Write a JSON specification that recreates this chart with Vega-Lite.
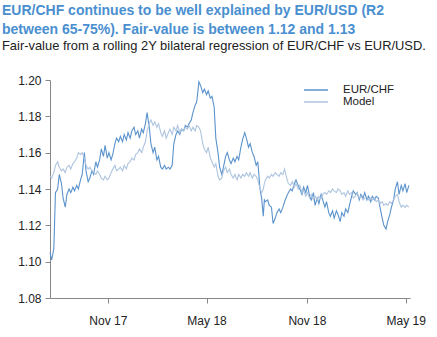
{
  "$schema": "https://vega.github.io/schema/vega-lite/v6.json",
  "width": 360,
  "height": 218,
  "autosize": {"type": "none"},
  "padding": {"left": 50, "top": 80, "right": 27, "bottom": 39},
  "background": "white",
  "config": {"view": {"stroke": null}, "font": "Liberation Sans"},
  "title": {
    "text": ["EUR/CHF continues to be well explained by EUR/USD (R2", "between 65-75%). Fair-value is between 1.12 and 1.13"],
    "subtitle": "Fair-value from a rolling 2Y bilateral regression of EUR/CHF vs EUR/USD.",
    "anchor": "start",
    "frame": "group",
    "dx": -48,
    "offset": 21,
    "font": "Liberation Sans",
    "fontSize": 14,
    "fontWeight": "bold",
    "color": "#4a8fd0",
    "lineHeight": 19.5,
    "subtitleFont": "Liberation Sans",
    "subtitleFontSize": 12.9,
    "subtitleColor": "#222222",
    "subtitlePadding": 3
  },
  "data": {"values": [
    {"date": "2017-07-18", "EUR/CHF": 1.105, "Model": 1.147},
    {"date": "2017-07-21", "EUR/CHF": 1.101, "Model": 1.146},
    {"date": "2017-07-25", "EUR/CHF": 1.107, "Model": 1.149},
    {"date": "2017-07-28", "EUR/CHF": 1.138, "Model": 1.153},
    {"date": "2017-08-01", "EUR/CHF": 1.140, "Model": 1.155},
    {"date": "2017-08-04", "EUR/CHF": 1.148, "Model": 1.152},
    {"date": "2017-08-08", "EUR/CHF": 1.143, "Model": 1.150},
    {"date": "2017-08-11", "EUR/CHF": 1.135, "Model": 1.151},
    {"date": "2017-08-15", "EUR/CHF": 1.130, "Model": 1.149},
    {"date": "2017-08-18", "EUR/CHF": 1.137, "Model": 1.152},
    {"date": "2017-08-22", "EUR/CHF": 1.140, "Model": 1.153},
    {"date": "2017-08-25", "EUR/CHF": 1.138, "Model": 1.151},
    {"date": "2017-08-29", "EUR/CHF": 1.141, "Model": 1.154},
    {"date": "2017-09-01", "EUR/CHF": 1.139, "Model": 1.155},
    {"date": "2017-09-05", "EUR/CHF": 1.142, "Model": 1.157},
    {"date": "2017-09-08", "EUR/CHF": 1.140, "Model": 1.160},
    {"date": "2017-09-12", "EUR/CHF": 1.145, "Model": 1.159},
    {"date": "2017-09-15", "EUR/CHF": 1.148, "Model": 1.160},
    {"date": "2017-09-19", "EUR/CHF": 1.160, "Model": 1.157},
    {"date": "2017-09-22", "EUR/CHF": 1.150, "Model": 1.153},
    {"date": "2017-09-26", "EUR/CHF": 1.144, "Model": 1.151},
    {"date": "2017-09-29", "EUR/CHF": 1.146, "Model": 1.152},
    {"date": "2017-10-03", "EUR/CHF": 1.150, "Model": 1.150},
    {"date": "2017-10-06", "EUR/CHF": 1.148, "Model": 1.149},
    {"date": "2017-10-10", "EUR/CHF": 1.155, "Model": 1.148},
    {"date": "2017-10-13", "EUR/CHF": 1.152, "Model": 1.150},
    {"date": "2017-10-17", "EUR/CHF": 1.156, "Model": 1.148},
    {"date": "2017-10-20", "EUR/CHF": 1.162, "Model": 1.146},
    {"date": "2017-10-24", "EUR/CHF": 1.158, "Model": 1.145},
    {"date": "2017-10-27", "EUR/CHF": 1.164, "Model": 1.147},
    {"date": "2017-10-31", "EUR/CHF": 1.157, "Model": 1.145},
    {"date": "2017-11-03", "EUR/CHF": 1.160, "Model": 1.146},
    {"date": "2017-11-07", "EUR/CHF": 1.156, "Model": 1.149},
    {"date": "2017-11-10", "EUR/CHF": 1.159, "Model": 1.151},
    {"date": "2017-11-14", "EUR/CHF": 1.165, "Model": 1.153},
    {"date": "2017-11-17", "EUR/CHF": 1.168, "Model": 1.150},
    {"date": "2017-11-21", "EUR/CHF": 1.166, "Model": 1.151},
    {"date": "2017-11-24", "EUR/CHF": 1.169, "Model": 1.152},
    {"date": "2017-11-28", "EUR/CHF": 1.166, "Model": 1.150},
    {"date": "2017-12-01", "EUR/CHF": 1.170, "Model": 1.153},
    {"date": "2017-12-05", "EUR/CHF": 1.167, "Model": 1.151},
    {"date": "2017-12-08", "EUR/CHF": 1.171, "Model": 1.154},
    {"date": "2017-12-12", "EUR/CHF": 1.168, "Model": 1.155},
    {"date": "2017-12-15", "EUR/CHF": 1.172, "Model": 1.157},
    {"date": "2017-12-19", "EUR/CHF": 1.174, "Model": 1.156},
    {"date": "2017-12-22", "EUR/CHF": 1.170, "Model": 1.159},
    {"date": "2017-12-26", "EUR/CHF": 1.172, "Model": 1.160},
    {"date": "2017-12-29", "EUR/CHF": 1.168, "Model": 1.162},
    {"date": "2018-01-02", "EUR/CHF": 1.173, "Model": 1.160},
    {"date": "2018-01-05", "EUR/CHF": 1.171, "Model": 1.163},
    {"date": "2018-01-09", "EUR/CHF": 1.176, "Model": 1.166},
    {"date": "2018-01-12", "EUR/CHF": 1.182, "Model": 1.172},
    {"date": "2018-01-16", "EUR/CHF": 1.174, "Model": 1.176},
    {"date": "2018-01-19", "EUR/CHF": 1.165, "Model": 1.178},
    {"date": "2018-01-23", "EUR/CHF": 1.160, "Model": 1.175},
    {"date": "2018-01-26", "EUR/CHF": 1.163, "Model": 1.177},
    {"date": "2018-01-30", "EUR/CHF": 1.156, "Model": 1.174},
    {"date": "2018-02-02", "EUR/CHF": 1.158, "Model": 1.176},
    {"date": "2018-02-06", "EUR/CHF": 1.152, "Model": 1.171},
    {"date": "2018-02-09", "EUR/CHF": 1.151, "Model": 1.169},
    {"date": "2018-02-13", "EUR/CHF": 1.153, "Model": 1.172},
    {"date": "2018-02-16", "EUR/CHF": 1.151, "Model": 1.168},
    {"date": "2018-02-20", "EUR/CHF": 1.152, "Model": 1.171},
    {"date": "2018-02-23", "EUR/CHF": 1.151, "Model": 1.173},
    {"date": "2018-02-27", "EUR/CHF": 1.153, "Model": 1.170},
    {"date": "2018-03-02", "EUR/CHF": 1.165, "Model": 1.174},
    {"date": "2018-03-06", "EUR/CHF": 1.170, "Model": 1.172},
    {"date": "2018-03-09", "EUR/CHF": 1.172, "Model": 1.175},
    {"date": "2018-03-13", "EUR/CHF": 1.170, "Model": 1.171},
    {"date": "2018-03-16", "EUR/CHF": 1.173, "Model": 1.173},
    {"date": "2018-03-20", "EUR/CHF": 1.172, "Model": 1.172},
    {"date": "2018-03-23", "EUR/CHF": 1.175, "Model": 1.174},
    {"date": "2018-03-27", "EUR/CHF": 1.174, "Model": 1.173},
    {"date": "2018-03-30", "EUR/CHF": 1.176, "Model": 1.175},
    {"date": "2018-04-03", "EUR/CHF": 1.178, "Model": 1.172},
    {"date": "2018-04-06", "EUR/CHF": 1.182, "Model": 1.174},
    {"date": "2018-04-10", "EUR/CHF": 1.186, "Model": 1.172},
    {"date": "2018-04-13", "EUR/CHF": 1.188, "Model": 1.175},
    {"date": "2018-04-17", "EUR/CHF": 1.199, "Model": 1.174},
    {"date": "2018-04-20", "EUR/CHF": 1.197, "Model": 1.172},
    {"date": "2018-04-24", "EUR/CHF": 1.193, "Model": 1.165},
    {"date": "2018-04-27", "EUR/CHF": 1.195, "Model": 1.162},
    {"date": "2018-05-01", "EUR/CHF": 1.192, "Model": 1.160},
    {"date": "2018-05-04", "EUR/CHF": 1.194, "Model": 1.163},
    {"date": "2018-05-08", "EUR/CHF": 1.190, "Model": 1.157},
    {"date": "2018-05-11", "EUR/CHF": 1.191, "Model": 1.155},
    {"date": "2018-05-15", "EUR/CHF": 1.185, "Model": 1.152},
    {"date": "2018-05-18", "EUR/CHF": 1.168, "Model": 1.154},
    {"date": "2018-05-22", "EUR/CHF": 1.160, "Model": 1.147},
    {"date": "2018-05-25", "EUR/CHF": 1.152, "Model": 1.145},
    {"date": "2018-05-29", "EUR/CHF": 1.148, "Model": 1.146},
    {"date": "2018-06-01", "EUR/CHF": 1.152, "Model": 1.150},
    {"date": "2018-06-05", "EUR/CHF": 1.158, "Model": 1.152},
    {"date": "2018-06-08", "EUR/CHF": 1.160, "Model": 1.149},
    {"date": "2018-06-12", "EUR/CHF": 1.156, "Model": 1.151},
    {"date": "2018-06-15", "EUR/CHF": 1.154, "Model": 1.148},
    {"date": "2018-06-19", "EUR/CHF": 1.157, "Model": 1.146},
    {"date": "2018-06-22", "EUR/CHF": 1.155, "Model": 1.148},
    {"date": "2018-06-26", "EUR/CHF": 1.158, "Model": 1.145},
    {"date": "2018-06-29", "EUR/CHF": 1.156, "Model": 1.148},
    {"date": "2018-07-03", "EUR/CHF": 1.163, "Model": 1.146},
    {"date": "2018-07-06", "EUR/CHF": 1.167, "Model": 1.148},
    {"date": "2018-07-10", "EUR/CHF": 1.171, "Model": 1.147},
    {"date": "2018-07-13", "EUR/CHF": 1.168, "Model": 1.149},
    {"date": "2018-07-17", "EUR/CHF": 1.163, "Model": 1.147},
    {"date": "2018-07-20", "EUR/CHF": 1.165, "Model": 1.149},
    {"date": "2018-07-24", "EUR/CHF": 1.160, "Model": 1.146},
    {"date": "2018-07-27", "EUR/CHF": 1.158, "Model": 1.148},
    {"date": "2018-07-31", "EUR/CHF": 1.153, "Model": 1.147},
    {"date": "2018-08-03", "EUR/CHF": 1.155, "Model": 1.145},
    {"date": "2018-08-07", "EUR/CHF": 1.140, "Model": 1.140},
    {"date": "2018-08-10", "EUR/CHF": 1.135, "Model": 1.138},
    {"date": "2018-08-13", "EUR/CHF": 1.125, "Model": 1.140},
    {"date": "2018-08-15", "EUR/CHF": 1.134, "Model": 1.143},
    {"date": "2018-08-17", "EUR/CHF": 1.133, "Model": 1.145},
    {"date": "2018-08-21", "EUR/CHF": 1.134, "Model": 1.147},
    {"date": "2018-08-24", "EUR/CHF": 1.131, "Model": 1.146},
    {"date": "2018-08-28", "EUR/CHF": 1.130, "Model": 1.148},
    {"date": "2018-08-31", "EUR/CHF": 1.121, "Model": 1.147},
    {"date": "2018-09-04", "EUR/CHF": 1.124, "Model": 1.149},
    {"date": "2018-09-07", "EUR/CHF": 1.127, "Model": 1.148},
    {"date": "2018-09-11", "EUR/CHF": 1.129, "Model": 1.147},
    {"date": "2018-09-14", "EUR/CHF": 1.127, "Model": 1.149},
    {"date": "2018-09-18", "EUR/CHF": 1.130, "Model": 1.148},
    {"date": "2018-09-21", "EUR/CHF": 1.133, "Model": 1.151},
    {"date": "2018-09-25", "EUR/CHF": 1.136, "Model": 1.146},
    {"date": "2018-09-28", "EUR/CHF": 1.138, "Model": 1.143},
    {"date": "2018-10-02", "EUR/CHF": 1.140, "Model": 1.142},
    {"date": "2018-10-05", "EUR/CHF": 1.139, "Model": 1.144},
    {"date": "2018-10-09", "EUR/CHF": 1.143, "Model": 1.141},
    {"date": "2018-10-12", "EUR/CHF": 1.145, "Model": 1.143},
    {"date": "2018-10-16", "EUR/CHF": 1.142, "Model": 1.140},
    {"date": "2018-10-19", "EUR/CHF": 1.140, "Model": 1.142},
    {"date": "2018-10-23", "EUR/CHF": 1.137, "Model": 1.138},
    {"date": "2018-10-26", "EUR/CHF": 1.141, "Model": 1.139},
    {"date": "2018-10-30", "EUR/CHF": 1.138, "Model": 1.136},
    {"date": "2018-11-02", "EUR/CHF": 1.142, "Model": 1.138},
    {"date": "2018-11-06", "EUR/CHF": 1.136, "Model": 1.135},
    {"date": "2018-11-09", "EUR/CHF": 1.134, "Model": 1.137},
    {"date": "2018-11-13", "EUR/CHF": 1.138, "Model": 1.134},
    {"date": "2018-11-16", "EUR/CHF": 1.131, "Model": 1.136},
    {"date": "2018-11-20", "EUR/CHF": 1.135, "Model": 1.134},
    {"date": "2018-11-23", "EUR/CHF": 1.132, "Model": 1.136},
    {"date": "2018-11-27", "EUR/CHF": 1.137, "Model": 1.135},
    {"date": "2018-11-30", "EUR/CHF": 1.134, "Model": 1.137},
    {"date": "2018-12-04", "EUR/CHF": 1.130, "Model": 1.138},
    {"date": "2018-12-07", "EUR/CHF": 1.133, "Model": 1.137},
    {"date": "2018-12-11", "EUR/CHF": 1.127, "Model": 1.139},
    {"date": "2018-12-14", "EUR/CHF": 1.125, "Model": 1.138},
    {"date": "2018-12-18", "EUR/CHF": 1.128, "Model": 1.140},
    {"date": "2018-12-21", "EUR/CHF": 1.124, "Model": 1.139},
    {"date": "2018-12-25", "EUR/CHF": 1.128, "Model": 1.138},
    {"date": "2018-12-28", "EUR/CHF": 1.126, "Model": 1.140},
    {"date": "2019-01-01", "EUR/CHF": 1.122, "Model": 1.139},
    {"date": "2019-01-04", "EUR/CHF": 1.127, "Model": 1.137},
    {"date": "2019-01-08", "EUR/CHF": 1.125, "Model": 1.138},
    {"date": "2019-01-11", "EUR/CHF": 1.129, "Model": 1.136},
    {"date": "2019-01-15", "EUR/CHF": 1.127, "Model": 1.139},
    {"date": "2019-01-18", "EUR/CHF": 1.131, "Model": 1.137},
    {"date": "2019-01-22", "EUR/CHF": 1.136, "Model": 1.138},
    {"date": "2019-01-25", "EUR/CHF": 1.139, "Model": 1.135},
    {"date": "2019-01-29", "EUR/CHF": 1.137, "Model": 1.136},
    {"date": "2019-02-01", "EUR/CHF": 1.138, "Model": 1.138},
    {"date": "2019-02-05", "EUR/CHF": 1.134, "Model": 1.135},
    {"date": "2019-02-08", "EUR/CHF": 1.137, "Model": 1.136},
    {"date": "2019-02-12", "EUR/CHF": 1.135, "Model": 1.134},
    {"date": "2019-02-15", "EUR/CHF": 1.138, "Model": 1.135},
    {"date": "2019-02-19", "EUR/CHF": 1.134, "Model": 1.136},
    {"date": "2019-02-22", "EUR/CHF": 1.136, "Model": 1.134},
    {"date": "2019-02-26", "EUR/CHF": 1.133, "Model": 1.135},
    {"date": "2019-03-01", "EUR/CHF": 1.136, "Model": 1.134},
    {"date": "2019-03-05", "EUR/CHF": 1.134, "Model": 1.135},
    {"date": "2019-03-08", "EUR/CHF": 1.136, "Model": 1.133},
    {"date": "2019-03-12", "EUR/CHF": 1.135, "Model": 1.134},
    {"date": "2019-03-15", "EUR/CHF": 1.130, "Model": 1.132},
    {"date": "2019-03-19", "EUR/CHF": 1.124, "Model": 1.133},
    {"date": "2019-03-22", "EUR/CHF": 1.120, "Model": 1.131},
    {"date": "2019-03-26", "EUR/CHF": 1.118, "Model": 1.132},
    {"date": "2019-03-29", "EUR/CHF": 1.122, "Model": 1.131},
    {"date": "2019-04-02", "EUR/CHF": 1.126, "Model": 1.133},
    {"date": "2019-04-05", "EUR/CHF": 1.130, "Model": 1.132},
    {"date": "2019-04-09", "EUR/CHF": 1.134, "Model": 1.134},
    {"date": "2019-04-12", "EUR/CHF": 1.140, "Model": 1.136},
    {"date": "2019-04-16", "EUR/CHF": 1.144, "Model": 1.137},
    {"date": "2019-04-19", "EUR/CHF": 1.137, "Model": 1.133},
    {"date": "2019-04-23", "EUR/CHF": 1.142, "Model": 1.130},
    {"date": "2019-04-26", "EUR/CHF": 1.139, "Model": 1.131},
    {"date": "2019-04-30", "EUR/CHF": 1.143, "Model": 1.130},
    {"date": "2019-05-03", "EUR/CHF": 1.138, "Model": 1.131},
    {"date": "2019-05-07", "EUR/CHF": 1.142, "Model": 1.130}
  ]},
  "transform": [{"fold": ["EUR/CHF", "Model"], "as": ["series", "value"]}],
  "mark": {"type": "line", "strokeWidth": 1.1, "interpolate": "linear"},
  "encoding": {
    "x": {
      "field": "date", "type": "temporal",
      "scale": {"domain": ["2017-07-18", "2019-05-09"]},
      "axis": {
        "title": null,
        "values": ["2017-11-01", "2018-05-01", "2018-11-01", "2019-05-01"],
        "format": "%b %y",
        "grid": false,
        "domainColor": "#888888",
        "tickColor": "#888888",
        "tickSize": 5,
        "labelPadding": 12,
        "labelFontSize": 12,
        "labelColor": "#222222",
        "labelFont": "Liberation Sans"
      }
    },
    "y": {
      "field": "value", "type": "quantitative",
      "scale": {"domain": [1.08, 1.20], "zero": false, "nice": false},
      "axis": {
        "title": null,
        "values": [1.08, 1.10, 1.12, 1.14, 1.16, 1.18, 1.20],
        "format": ".2f",
        "grid": false,
        "domainColor": "#888888",
        "tickColor": "#888888",
        "tickSize": 5,
        "labelPadding": 4,
        "labelFontSize": 12,
        "labelColor": "#222222",
        "labelFont": "Liberation Sans"
      }
    },
    "color": {
      "field": "series", "type": "nominal",
      "scale": {"domain": ["EUR/CHF", "Model"], "range": ["#5b93cc", "#aec4df"]},
      "legend": {
        "title": null,
        "orient": "none",
        "legendX": 260,
        "legendY": 4,
        "padding": 0,
        "symbolType": "M-2.4,0H2.4",
        "symbolSize": 100,
        "symbolStrokeWidth": 1.5,
        "symbolFillColor": "transparent",
        "labelFontSize": 11.5,
        "labelColor": "#222222",
        "labelFont": "Liberation Sans",
        "labelOffset": 21,
        "rowPadding": 0
      }
    }
  }
}
